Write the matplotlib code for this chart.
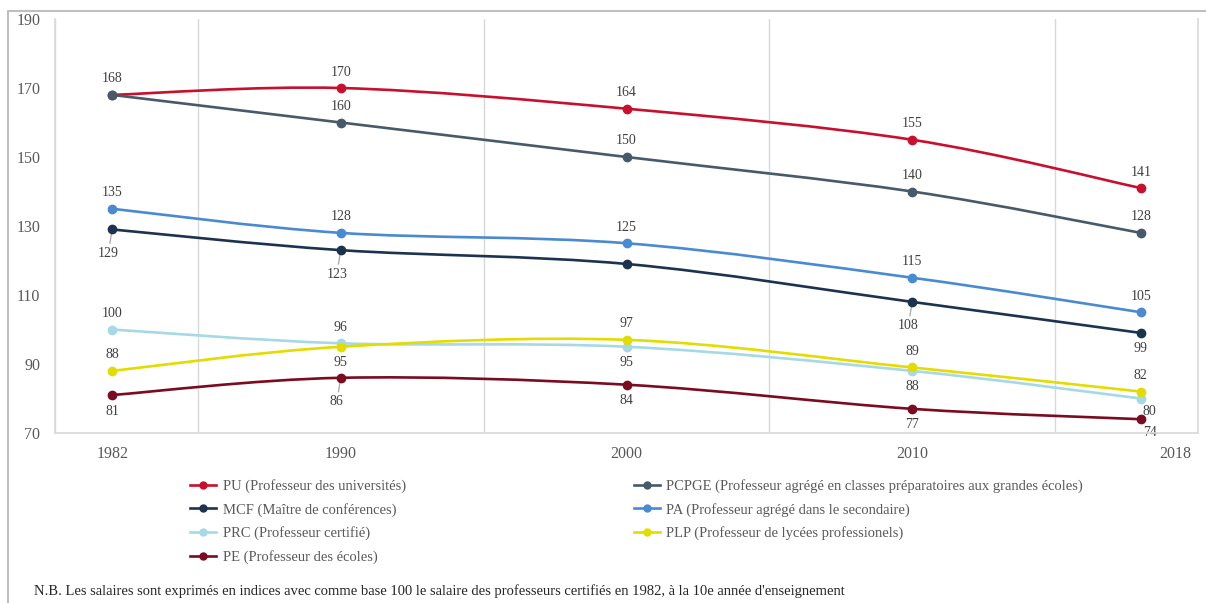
import numpy as np
import matplotlib.pyplot as plt
from matplotlib.path import Path
from matplotlib.patches import PathPatch
from matplotlib.lines import Line2D

plt.rcParams['font.family'] = ['Liberation Serif', 'DejaVu Serif']

years = [1982, 1990, 2000, 2010, 2018]
year_labels = ['1982', '1990', '2000', '2010', '2018']

pu = [168, 170, 164, 155, 141]
pcpge = [168, 160, 150, 140, 128]
mcf = [129, 123, 119, 108, 99]
pa = [135, 128, 125, 115, 105]
prc = [100, 96, 95, 88, 80]
plp = [88, 95, 97, 89, 82]
pe = [81, 86, 84, 77, 74]

names = [
    'PU (Professeur des universités)',
    'MCF (Maître de conférences)',
    'PRC (Professeur certifié)',
    'PE (Professeur des écoles)',
    'PCPGE (Professeur agrégé en classes préparatoires aux grandes écoles)',
    'PA (Professeur agrégé dans le secondaire)',
    'PLP (Professeur de lycées professionels)',
]
series = [pu, mcf, prc, pe, pcpge, pa, plp]
colors = ['#c8102e', '#1c3350', '#a6d9e5', '#7a0b20', '#465a6b', '#4a8ad0', '#e3dc00']

# label placement per point: 'a' above, 'b' below, 'br' below-right, 'bl' below with leader, None hidden
placement = [
    ['a', 'a', 'a', 'a', 'a'],          # PU
    ['bl', 'bl', None, 'bl', 'b'],      # MCF
    ['a', 'a', 'b', 'b', 'br'],         # PRC
    ['b', 'bl', 'b', 'b', 'br'],        # PE
    [None, 'a', 'a', 'a', 'a'],         # PCPGE
    ['a', 'a', 'a', 'a', 'a'],          # PA
    ['a', 'b', 'a', 'a', 'a'],          # PLP
]


def smooth_path(xs, ys):
    # Excel-like smoothed line: cubic Bezier through the points
    pts = np.column_stack([xs, ys]).astype(float)
    ext = np.vstack([pts[0], pts, pts[-1]])
    verts = [tuple(pts[0])]
    codes = [Path.MOVETO]
    for i in range(len(pts) - 1):
        p0, p1, p2, p3 = ext[i], ext[i + 1], ext[i + 2], ext[i + 3]
        c1 = p1 + (p2 - p0) / 6
        c2 = p2 - (p3 - p1) / 6
        verts += [tuple(c1), tuple(c2), tuple(p2)]
        codes += [Path.CURVE4] * 3
    return Path(verts, codes)


fig = plt.figure(figsize=(12.06, 6.03), dpi=100)
ax = fig.add_axes([55 / 1206, 1 - 433 / 603, 1143 / 1206, 414 / 603])

ax.set_xlim(1980, 2020)
ax.set_ylim(70, 190)
ax.set_yticks(range(70, 191, 20))
ax.set_xticks(years[:-1] + [2019.2])
ax.set_xticklabels(year_labels)
ax.set_xticks(range(1980, 2021, 5), minor=True)
ax.tick_params(which='both', length=0)
ax.tick_params(axis='x', pad=9, labelsize=11.5, colors='#595959')
ax.tick_params(axis='y', pad=10.5, labelsize=11.5, colors='#595959')
ax.grid(True, axis='x', which='minor', color='#d9d9d9', lw=1)
ax.spines['top'].set_visible(False)
for s in ['left', 'right', 'bottom']:
    ax.spines[s].set_color('#d9d9d9')
    ax.spines[s].set_linewidth(1.2)

for vals, col, name, place in zip(series, colors, names, placement):
    ax.add_patch(PathPatch(smooth_path(years, vals), fc='none', ec=col, lw=1.9, zorder=3))
    ax.plot(years, vals, ls='none', marker='o', ms=6, color=col, zorder=4)
    for x, y, p in zip(years, vals, place):
        if p is None:
            continue
        if p == 'a':
            off = (0, 16)
        elif p == 'b':
            off = (0, -16)
        elif p == 'br':
            off = (9, -13)
        else:
            off = (-4, -24)
        kw = {}
        if p == 'bl':
            kw['arrowprops'] = dict(arrowstyle='-', color='#a6a6a6', lw=0.9,
                                    shrinkA=0.5, shrinkB=0)
        ax.annotate(str(y), (x, y), xytext=off, textcoords='offset pixels',
                    ha='center', va='center', fontsize=10, color='#404040',
                    zorder=2, **kw)

handles = [Line2D([], [], color=c, lw=1.9, marker='o', ms=5) for c in colors]
fig.legend(handles, names, ncol=2, loc='upper left', bbox_to_anchor=(177 / 1206, 1 - 466 / 603),
           frameon=False, fontsize=10.5, handlelength=1.8, handletextpad=0.45,
           columnspacing=15.6, labelspacing=0.66, labelcolor='#595959')

fig.text(34 / 1206, 1 - 591 / 603,
         "N.B. Les salaires sont exprimés en indices avec comme base 100 le salaire des professeurs "
         "certifiés en 1982, à la 10e année d'enseignement",
         fontsize=10.5, color='#262626', va='center')

# outer frame: top and left edges
fig.add_artist(Line2D([8 / 1206, 8 / 1206, 1], [0, 1 - 11 / 603, 1 - 11 / 603],
                      transform=fig.transFigure, color='#bfbfbf', lw=1.5))

fig.savefig('out.png', dpi=100)
